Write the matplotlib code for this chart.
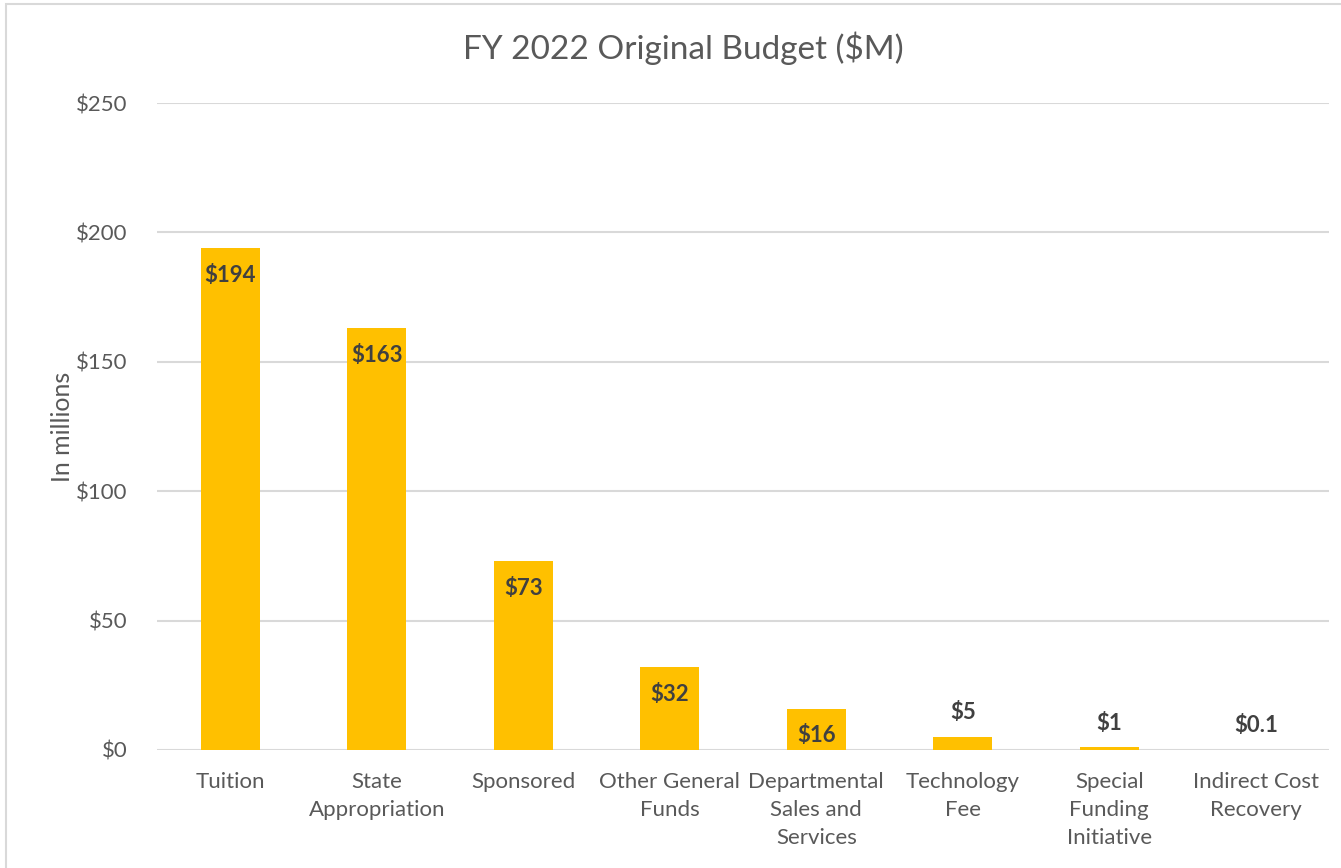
import matplotlib.pyplot as plt
from matplotlib.patches import Rectangle

categories = ["Tuition", "State\nAppropriation", "Sponsored", "Other General\nFunds",
              "Departmental\nSales and\nServices", "Technology\nFee", "Special\nFunding\nInitiative",
              "Indirect Cost\nRecovery"]
values = [194, 163, 73, 32, 16, 5, 1, 0.1]
labels = ["$194", "$163", "$73", "$32", "$16", "$5", "$1", "$0.1"]
inside = [True, True, True, True, True, False, False, False]
yticks = [0, 50, 100, 150, 200, 250]

plt.rcParams['font.family'] = ['Lato', 'DejaVu Sans']
gray = "#595959"

fig = plt.figure(figsize=(13.41, 8.68), dpi=100)
ax = fig.add_axes([157 / 1341, 1 - 750 / 868, (1329 - 157) / 1341, (750 - 103) / 868])

# chart border (cut off at right and bottom)
fig.patches.append(Rectangle((6 / 1341, -0.1), 1.2, 1 - 4 / 868 + 0.1, transform=fig.transFigure,
                             fill=False, edgecolor="#D9D9D9", linewidth=1.5))

x = range(len(categories))
ax.bar(x, values, width=0.4, color="#FFC000", zorder=2)

for i, v in enumerate(values):
    if inside[i]:
        ax.annotate(labels[i], (i, v), xytext=(0, -12), textcoords="offset points",
                    ha="center", va="top", fontsize=16, fontweight="bold", color="#404040")
    else:
        ax.annotate(labels[i], (i, v), xytext=(0, 10), textcoords="offset points",
                    ha="center", va="bottom", fontsize=16, fontweight="bold", color="#404040")

ax.set_xlim(-0.5, len(categories) - 0.5)
ax.set_ylim(0, 250)
ax.set_yticks(yticks)
ax.set_yticklabels([f"${t}" for t in yticks])
ax.set_xticks(list(x))
ax.set_xticklabels(categories, linespacing=1.5)
ax.tick_params(length=0, labelsize=16, colors=gray)
ax.tick_params(axis="x", pad=16)
ax.tick_params(axis="y", pad=21)
ax.yaxis.grid(True, color="#D9D9D9", linewidth=1.5, zorder=0)
ax.set_axisbelow(True)
for s in ax.spines.values():
    s.set_visible(False)

ax.set_ylabel("In millions", fontsize=18, color=gray, labelpad=2)
fig.text(683 / 1341, 1 - 48 / 868, "FY 2022 Original Budget ($M)", ha="center", va="center",
         fontsize=24, color=gray)

plt.savefig("out.png")
